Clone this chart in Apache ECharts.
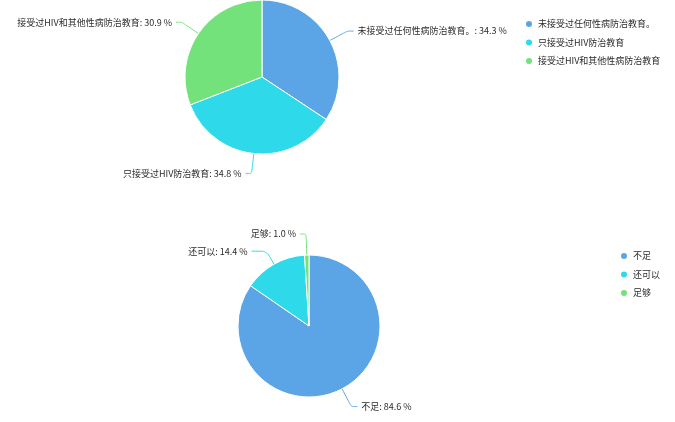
<!DOCTYPE html>
<html>
<head>
<meta charset="utf-8">
<script src="https://cdn.jsdelivr.net/npm/echarts@6/dist/echarts.min.js"></script>
<style>html,body{margin:0;padding:0;background:#fff;}#c{width:675px;height:422px;}</style>
</head>
<body>
<div id="c"></div>
<script>
const topNames = ['未接受过任何性病防治教育。', '只接受过HIV防治教育', '接受过HIV和其他性病防治教育'];
const topValues = [34.3, 34.8, 30.9];
const bottomNames = ['不足', '还可以', '足够'];
const bottomValues = [84.6, 14.4, 1.0];
const colors = ['#5ba5e6', '#2ed9ea', '#74e27b'];

const chart = echarts.init(document.getElementById('c'));
const fmt = p => p.name + ': ' + p.percent.toFixed(1) + ' %';
const labelStyle = { color: '#2b2b2b', fontSize: 9, fontFamily: 'Noto Sans CJK SC', formatter: fmt, overflow: 'none', distanceToLabelLine: 4 };
const legendText = { color: '#2b2b2b', fontSize: 9, lineHeight: 10, fontFamily: 'Noto Sans CJK SC' };
const bottomLineLen = [[20, 6], [15, 15], [21, 6]];
chart.setOption({
  animation: false,
  color: colors,
  legend: [
    {
      orient: 'vertical', left: 519, top: 14, padding: 5, icon: 'circle', itemWidth: 8, itemHeight: 8, itemGap: 8.5, itemTextGap: 4,
      textStyle: legendText,
      data: topNames
    },
    {
      orient: 'vertical', left: 614, top: 246, padding: 5, icon: 'circle', itemWidth: 8, itemHeight: 8, itemGap: 8.5, itemTextGap: 4,
      textStyle: legendText,
      data: bottomNames
    }
  ],
  series: [
    {
      type: 'pie', center: [262, 77], radius: 77, startAngle: 90,
      itemStyle: { borderColor: '#fff', borderWidth: 1 },
      label: labelStyle,
      labelLine: { length: 20, length2: 6, smooth: 0.2, lineStyle: { width: 1 } },
      data: topNames.map((n, i) => ({ name: n, value: topValues[i] }))
    },
    {
      type: 'pie', center: [309, 326], radius: 71, startAngle: 90,
      itemStyle: { borderColor: '#fff', borderWidth: 1 },
      label: labelStyle,
      labelLine: { length: 20, length2: 6, smooth: 0.2, lineStyle: { width: 1 } },
      data: bottomNames.map((n, i) => ({
        name: n, value: bottomValues[i],
        labelLine: { length: bottomLineLen[i][0], length2: bottomLineLen[i][1] }
      }))
    }
  ]
});
</script>
</body>
</html>
